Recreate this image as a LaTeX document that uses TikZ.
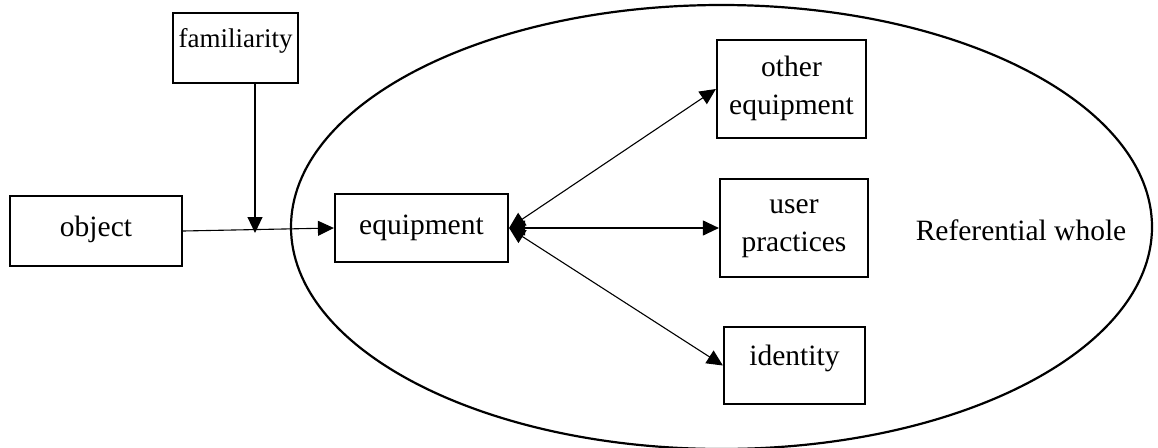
\documentclass[tikz,border=0pt]{standalone}
\usepackage{fontspec}
\setmainfont{Liberation Serif}
\usetikzlibrary{arrows.meta}

\tikzset{
  box/.style={draw, line width=2.2pt, inner sep=0pt},
  lbl/.style={inner sep=0pt, align=center, font=\fontsize{29.5}{38}\selectfont},
  link/.style={line width=1.1pt, -{Triangle[length=16pt,width=15pt]}},
  duallink/.style={line width=1.1pt, {Triangle[length=16pt,width=15pt]}-{Triangle[length=16pt,width=15pt]}}
}

\begin{document}
\begin{tikzpicture}[x=1pt,y=-1pt]
  \useasboundingbox (0,0) rectangle (1158,447);

  % the referential whole
  \draw[line width=2.2pt] (721.5,227) ellipse [x radius=430.5, y radius=222];
  \node[lbl] (refwhole) at (1021,230) {Referential whole};

  % boxes
  \node[box, minimum width=125pt, minimum height=70pt] (fam) at (235.5,48) {};
  \node[lbl, font=\fontsize{27}{34}\selectfont] (famtext) at (235.5,41) {familiarity};

  \node[box, minimum width=172pt, minimum height=70pt] (obj) at (96,231) {};
  \node[lbl] (objtext) at (96,229) {object};

  \node[box, minimum width=173pt, minimum height=68pt] (eq) at (421.5,228) {};
  \node[lbl] (eqtext) at (421.5,228) {equipment};

  \node[box, minimum width=149pt, minimum height=98pt] (oe) at (791.5,89) {};
  \node[lbl] (oetext) at (791.5,88) {other\\equipment};

  \node[box, minimum width=148pt, minimum height=98pt] (up) at (794,228) {};
  \node[lbl] (uptext) at (794,229) {user\\practices};

  \node[box, minimum width=141pt, minimum height=77pt] (id) at (794.5,365.5) {};
  \node[lbl] (idtext) at (794.5,358) {identity};

  % connectors
  \coordinate (fdrop) at (255,233);
  \draw[link] (fdrop |- fam.south) -- (fdrop);
  \draw[link] (obj.east) -- (eq.west);

  \draw[duallink] (eq.east) -- (oe.west);
  \draw[duallink] (eq.east) -- (up.west);
  \draw[duallink] (eq.east) -- (id.west);
\end{tikzpicture}
\end{document}
